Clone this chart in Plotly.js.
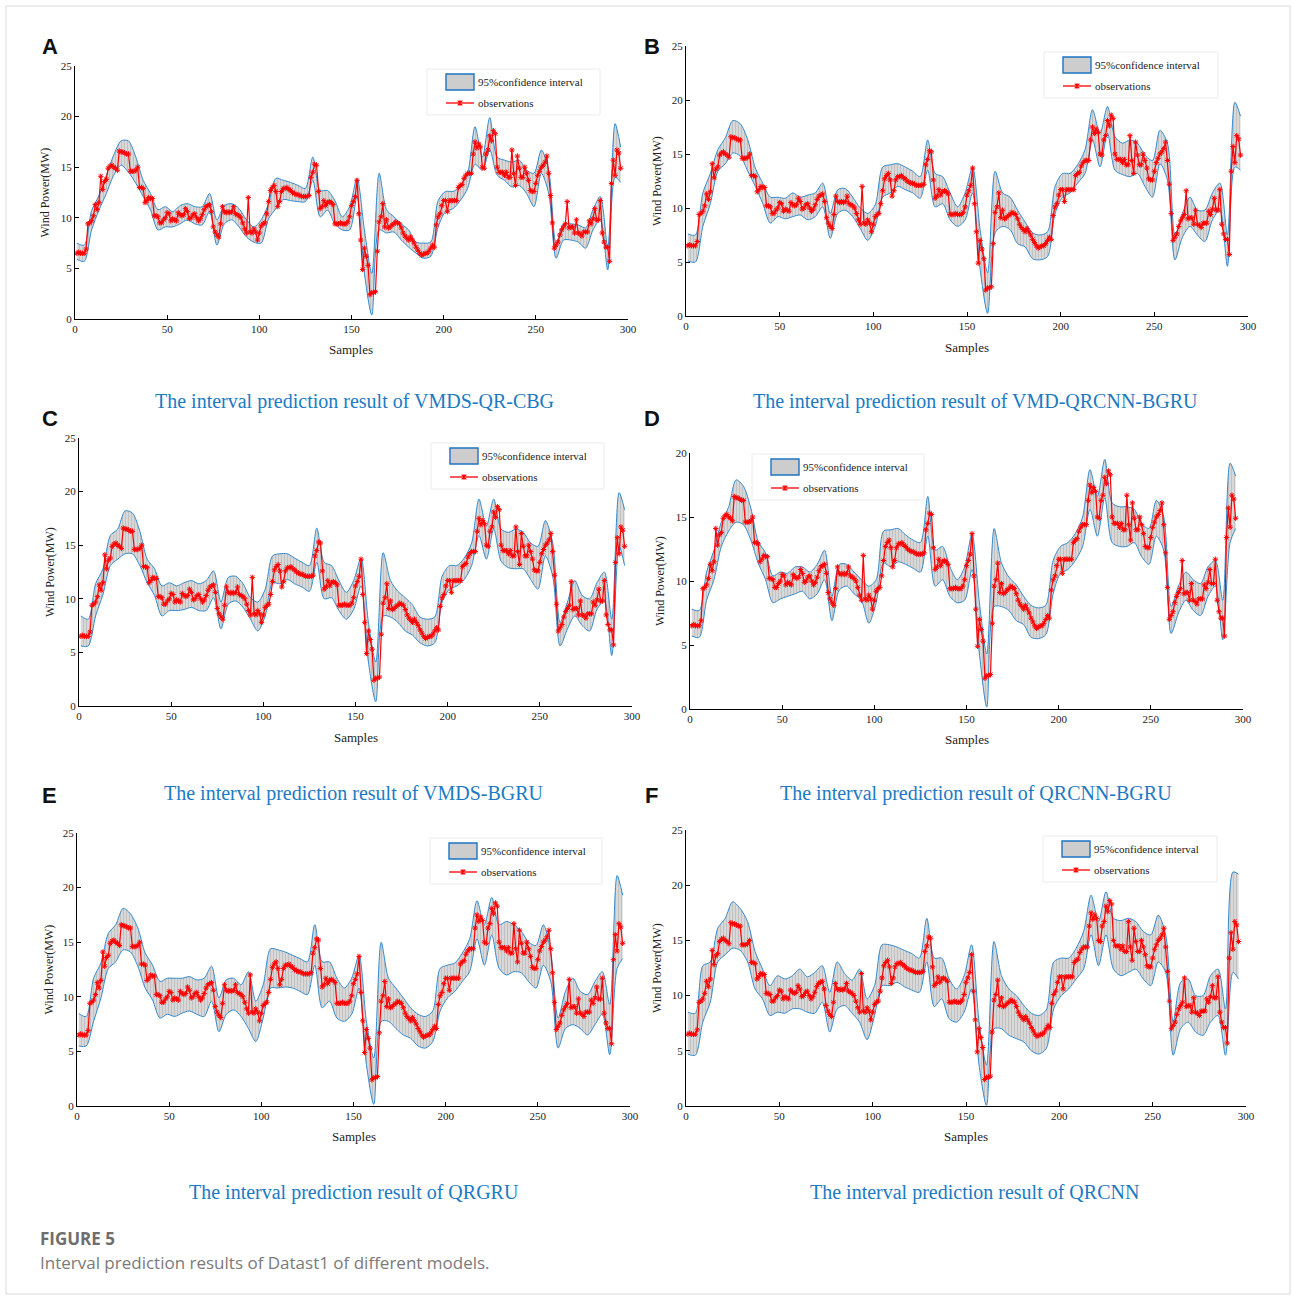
<!DOCTYPE html>
<html><head><meta charset="utf-8">
<script src="https://cdn.plot.ly/plotly-3.0.1.min.js"></script>
<style>html,body{margin:0;padding:0;background:#fff}#chart{width:1292px;height:1296px}</style>
</head><body><div id="chart"></div>
<script>
// ---------------- DATA ----------------
const modelNames = ["VMDS-QR-CBG","VMD-QRCNN-BGRU","VMDS-BGRU","QRCNN-BGRU","QRGRU","QRCNN"];
const panelLetters = ["A","B","C","D","E","F"];
const legendLabels = ["95%confidence interval","observations"];
const xTicks = [0,50,100,150,200,250,300];

// observations (sample 1..296)
const observations = [
6.5,6.6,6.5,6.5,6.5,6.9,9.4,9.5,9.7,10.2,
11.3,10.8,11.5,14.1,12.8,13.6,13.8,14.9,15.1,15.2,
15.0,14.9,14.7,16.6,16.5,16.5,16.4,16.3,16.3,14.6,
14.6,14.6,14.7,15.0,13.0,13.0,12.9,11.5,11.7,12.0,
11.9,11.9,10.2,10.2,10.1,9.5,9.5,9.8,10.0,10.5,
10.4,9.7,9.9,9.8,9.7,10.5,10.3,10.2,10.3,10.9,
10.6,9.9,10.0,10.3,10.4,10.0,9.7,9.9,10.3,10.8,
11.1,11.2,11.3,10.6,9.1,8.6,8.3,8.1,9.4,11.1,
10.6,10.5,10.6,10.5,10.6,11.1,10.4,10.3,10.2,10.0,
9.5,8.9,8.5,12.0,8.6,8.5,8.9,8.6,7.8,8.5,
9.2,9.4,9.5,10.4,11.6,12.7,13.0,13.2,12.6,11.1,
11.6,12.6,12.9,12.9,13.0,12.8,12.7,12.5,12.4,12.3,
12.3,12.2,12.1,12.1,12.1,12.1,12.2,14.0,14.5,15.3,
15.2,12.6,10.9,11.1,11.7,11.2,11.5,11.6,11.5,11.3,
9.4,9.4,9.4,9.5,9.4,9.4,9.4,9.6,10.1,11.2,
11.6,12.1,13.7,10.4,7.8,4.9,7.0,6.2,5.3,2.4,
2.6,2.6,2.7,6.7,9.6,10.1,11.4,9.1,9.8,9.0,
9.1,9.3,9.4,9.6,9.5,9.4,9.0,8.5,8.2,8.0,
7.8,8.1,7.8,7.5,7.1,6.8,6.5,6.3,6.4,6.5,
6.5,6.7,7.0,7.3,7.1,9.3,10.1,10.4,11.2,11.7,
11.7,10.6,11.7,11.7,11.7,11.7,11.7,13.0,13.2,13.3,
13.9,14.2,14.4,14.4,14.4,16.3,17.5,16.9,17.3,17.0,
15.0,14.9,16.3,16.7,18.1,17.6,18.6,18.3,15.0,14.5,
14.5,14.5,14.2,14.5,14.0,14.0,16.7,14.4,13.2,16.1,
14.9,14.0,14.0,15.0,14.4,13.7,12.7,12.6,12.6,13.4,
14.2,14.6,15.0,15.2,15.5,16.1,14.4,12.2,9.5,7.0,
7.3,7.6,8.3,8.8,9.1,9.4,11.6,9.0,9.1,9.1,
8.5,9.8,8.5,8.4,8.2,8.6,8.6,8.6,9.7,9.4,
9.9,10.9,9.8,9.8,11.7,8.5,7.6,7.1,7.1,5.7,
13.4,15.7,14.2,16.7,16.4,14.9];

// samples at which the interval bounds were read
const bandX = [1,5,9,13,17,21,25,29,33,37,41,45,49,53,57,61,65,69,73,77,
81,85,89,93,97,101,105,109,113,117,121,125,129,133,137,141,145,149,153,157,
161,165,169,173,177,181,185,189,193,197,201,205,209,213,217,221,225,229,233,237,
241,245,249,253,257,261,265,269,273,277,281,285,289,293,296];

const upperA = [7.5,7.3,10.7,12.2,14.2,16.2,17.6,17.6,16.0,13.7,
12.4,10.8,11.1,10.6,11.2,11.4,11.1,11.1,12.4,9.8,
11.2,11.4,10.9,9.8,9.1,9.8,11.4,13.9,13.7,13.5,
13.2,12.9,16.0,12.7,12.7,11.7,10.1,11.1,13.9,8.8,
4.5,14.4,10.8,10.1,9.4,8.8,7.6,7.5,7.6,11.7,
12.6,12.6,13.1,14.4,19.0,16.0,19.9,16.0,15.7,15.5,
15.7,14.7,14.4,16.7,14.7,7.5,9.4,9.4,9.3,9.0,
10.8,12.1,7.1,19.3,17.0];
const lowerA = [5.9,5.7,8.8,10.75,12.4,14.2,15.2,14.5,13.4,12.1,
10.75,8.8,9.1,9.1,9.4,9.8,9.4,9.3,10.6,7.3,
9.4,9.8,9.1,8.1,7.6,7.5,9.9,10.9,11.8,11.7,
11.6,11.6,13.7,10.1,10.75,9.4,8.8,8.8,12.1,4.5,
0.4,8.8,8.5,8.6,7.8,7.1,6.5,6.0,6.2,9.1,
10.6,10.9,11.7,12.9,15.3,14.7,16.7,14.2,13.7,13.05,
13.2,12.4,11.1,14.4,12.4,6.0,7.8,7.8,7.6,7.0,
8.8,9.8,4.85,14.0,13.5];

const upperB = [7.6,7.5,11.4,13.2,15.4,16.5,18.1,17.8,16.3,13.7,
12.3,11.0,11.0,10.9,11.4,11.0,11.2,11.4,12.3,9.5,
11.7,11.8,11.0,10.0,9.5,10.3,13.8,14.0,14.1,13.8,
13.4,12.9,16.3,13.2,12.9,11.4,10.1,11.4,13.8,8.0,
4.0,13.4,11.4,11.0,9.8,8.7,7.7,7.5,7.8,12.0,
13.2,13.2,14.0,15.4,19.1,16.9,19.4,16.6,16.0,16.3,
16.0,14.9,14.4,17.2,16.0,7.5,9.5,11.0,9.8,9.8,
11.4,12.3,7.5,19.8,18.5];
const lowerB = [5.1,5.0,8.3,10.4,13.4,14.1,15.1,14.8,13.4,12.0,
10.4,8.6,9.2,9.0,9.2,9.35,8.9,9.2,10.1,7.2,
9.5,9.8,9.2,8.1,7.0,8.3,11.0,11.4,12.0,11.7,
11.4,10.9,13.5,10.1,10.4,8.9,8.3,8.9,11.4,4.3,
0.25,7.7,8.3,8.0,6.7,6.4,5.3,5.2,5.5,9.5,
11.0,11.4,12.3,13.2,16.3,13.8,16.9,13.5,13.1,12.9,
13.2,12.0,11.0,14.1,12.6,5.2,7.3,8.3,7.5,6.9,
8.9,9.8,4.6,13.8,13.5];

const upperC = [8.4,8.1,11.4,12.8,15.9,16.5,18.2,18.0,16.3,13.7,
12.8,11.2,11.5,11.2,11.5,11.7,11.4,11.7,12.6,9.7,
12.0,12.1,11.4,10.1,9.7,10.9,14.0,14.2,14.2,13.8,
13.4,13.1,16.6,13.4,13.1,11.7,10.6,11.7,13.8,7.8,
4.1,14.3,11.7,10.7,10.1,9.4,8.3,8.1,8.3,12.1,
13.1,13.1,13.8,15.2,19.3,16.8,19.3,16.5,16.2,16.5,
16.2,15.2,14.9,17.3,15.2,7.8,9.7,11.7,10.3,10.0,
11.5,12.5,8.1,19.9,18.3];
const lowerC = [5.6,5.6,8.4,10.4,13.1,13.7,14.2,14.2,13.1,11.5,
10.3,8.4,8.9,8.9,9.0,9.2,8.9,8.9,10.1,7.2,
9.5,9.8,9.2,8.1,7.0,8.4,11.5,11.4,11.8,11.4,
11.1,10.7,13.4,10.0,10.1,8.9,8.1,9.0,11.2,4.1,
0.4,8.4,8.3,7.8,7.0,6.6,5.9,5.6,5.9,9.7,
10.9,11.2,11.8,13.1,15.9,13.7,16.5,13.5,12.9,12.8,
12.8,11.8,10.9,14.0,12.1,5.6,7.2,8.4,7.5,7.0,
9.0,9.8,4.7,14.9,13.1];

const upperD = [7.8,7.7,10.7,12.4,14.6,15.8,17.9,17.4,15.7,13.1,
12.2,10.4,10.7,10.6,11.1,11.1,10.7,11.3,12.4,8.8,
11.3,11.3,10.7,10.1,9.6,10.1,13.9,14.0,14.1,13.6,
13.2,13.0,16.6,12.4,12.7,11.1,10.1,11.1,13.7,8.3,
4.3,14.1,11.4,10.3,9.7,8.8,8.1,7.9,8.1,11.6,
12.7,13.0,13.7,15.0,18.7,16.6,19.5,16.1,15.8,15.8,
15.6,14.5,14.1,16.3,15.0,8.0,9.6,10.7,10.1,9.8,
11.1,11.6,8.5,19.2,18.2];
const lowerD = [5.7,5.6,8.5,10.1,12.7,13.9,14.6,14.4,13.2,11.4,
10.1,8.3,8.6,8.8,9.0,9.2,8.6,9.0,10.1,6.9,
9.3,9.6,9.0,8.5,6.7,8.3,11.4,11.1,11.5,11.3,
11.0,10.7,13.5,9.6,10.1,8.8,8.3,8.5,10.9,4.3,
0.15,8.0,8.0,7.7,6.9,6.6,5.6,5.5,5.8,9.0,
10.6,10.9,11.6,12.7,15.6,13.5,16.5,13.0,12.7,12.7,
13.0,11.9,11.3,13.5,12.4,5.9,7.5,8.5,7.7,7.3,
8.8,9.6,5.4,13.0,14.1];

const upperE = [8.45,8.2,11.7,13.1,15.8,16.6,18.1,17.6,16.3,14.0,
12.9,11.4,11.7,11.7,11.7,11.85,11.55,11.7,12.8,9.9,
11.55,11.7,11.1,12.3,9.6,11.1,14.4,14.3,14.1,13.8,
13.5,13.2,16.6,13.2,13.2,11.7,10.8,11.7,13.8,7.75,
4.4,15.0,11.7,10.8,9.9,9.0,8.4,8.2,8.7,12.6,
12.9,13.1,14.0,15.3,18.8,16.6,19.1,16.6,16.9,16.6,
16.0,15.0,14.7,16.6,14.1,8.05,10.5,11.7,10.5,10.2,
11.4,12.3,9.3,21.1,19.3];
const lowerE = [5.5,5.5,7.75,9.9,12.6,13.2,14.3,14.1,12.8,10.8,
9.7,8.05,8.4,8.2,8.5,8.7,8.4,8.2,9.6,6.8,
8.4,8.8,8.2,7.1,5.9,8.05,10.8,10.8,10.9,10.8,
10.5,10.2,12.9,9.0,9.6,8.05,7.75,8.4,10.8,3.8,
0.15,7.75,7.75,7.1,6.5,6.2,5.5,5.3,5.9,8.7,
9.9,10.5,11.4,12.3,15.3,12.9,15.65,12.6,12.0,12.3,
12.2,11.4,10.8,12.9,11.4,5.3,7.1,7.45,7.1,6.5,
7.45,8.4,4.7,12.6,13.5];

const upperF = [8.5,8.4,12.7,13.05,16.1,17.0,18.5,17.9,16.7,14.0,
12.4,10.9,11.8,11.5,11.8,12.4,11.7,12.1,12.7,10.3,
13.05,12.0,11.4,12.4,9.7,10.9,14.6,14.6,14.4,14.1,
13.8,13.4,17.0,13.4,13.4,11.5,10.6,11.8,14.6,7.6,
3.7,14.9,11.8,10.6,10.0,9.1,8.4,8.2,8.7,13.05,
13.4,13.4,14.3,15.8,19.1,16.7,19.4,17.0,16.8,17.0,
16.7,15.8,15.5,17.3,15.5,7.6,11.2,11.5,10.0,10.0,
11.8,12.4,8.8,21.2,21.0];
const lowerF = [4.7,4.6,7.6,9.4,13.05,13.7,14.3,14.1,13.05,10.6,
9.7,8.2,8.5,8.4,8.8,8.8,8.5,8.4,9.4,6.7,
8.8,9.1,8.4,7.6,6.0,8.2,10.9,10.9,11.2,10.8,
10.5,10.3,13.05,9.0,9.7,7.9,7.6,8.5,10.6,3.7,
0.05,7.0,7.0,6.4,6.1,5.8,5.0,4.7,5.2,8.8,
10.0,10.6,11.5,12.4,15.5,12.7,15.5,12.4,11.8,12.1,
12.4,11.5,10.9,13.05,12.1,4.6,7.0,7.6,6.7,6.4,
7.6,8.2,4.6,12.1,11.5];

const upperBounds = [upperA,upperB,upperC,upperD,upperE,upperF];
const lowerBounds = [lowerA,lowerB,lowerC,lowerD,lowerE,lowerF];
const yMax = [25,25,25,20,25,25];

// ---------------- LAYOUT GEOMETRY (pixels) ----------------
const W = 1292, H = 1296;
const px = v => v / W, py = v => 1 - v / H;
const frames = [
  {x0:75,  x1:628,  y0:66,  y1:319, leg:[427,69,173],  ytx:45,  sy:349,  sub:[354,401],  lab:[50,47]},
  {x0:686, x1:1248, y0:46,  y1:316, leg:[1044,52,174], ytx:657, sy:347,  sub:[976,401],  lab:[652,47]},
  {x0:79,  x1:632,  y0:438, y1:706, leg:[431,443,173], ytx:50,  sy:737,  sub:[354,793],  lab:[50,418]},
  {x0:690, x1:1243, y0:453, y1:709, leg:[752,454,172], ytx:660, sy:739,  sub:[976,793],  lab:[652,418]},
  {x0:77,  x1:630,  y0:833, y1:1106,leg:[430,838,172], ytx:48,  sy:1136, sub:[354,1192], lab:[49,796]},
  {x0:686, x1:1246, y0:830, y1:1106,leg:[1043,836,174],ytx:657, sy:1136, sub:[974,1192], lab:[651,796]}
];

const samples = observations.map((_, i) => i + 1);
const serif = 'Liberation Serif, Times New Roman, serif';
const bandLine = 'rgb(52,138,206)';
const bandFill = 'rgb(212,212,212)';
const red = 'rgb(255,0,0)';

const traces = [];
const layout = {
  width: W, height: H,
  margin: {l:0, r:0, t:0, b:0},
  paper_bgcolor: '#ffffff', plot_bgcolor: 'rgba(0,0,0,0)',
  showlegend: false,
  annotations: [], shapes: []
};

frames.forEach((f, i) => {
  const n = i === 0 ? '' : String(i + 1);
  const xa = 'x' + n, ya = 'y' + n;
  traces.push({
    x: bandX, y: lowerBounds[i], xaxis: xa, yaxis: ya, type: 'scatter', mode: 'lines',
    line: {color: bandLine, width: 1, shape: 'spline', smoothing: 0.8},
    hoverinfo: 'skip', showlegend: false
  });
  traces.push({
    x: bandX, y: upperBounds[i], xaxis: xa, yaxis: ya, type: 'scatter', mode: 'lines',
    fill: 'tonexty', fillcolor: bandFill,
    fillpattern: {shape: '|', bgcolor: 'rgb(216,216,216)', fgcolor: 'rgb(186,186,186)', size: 3, solidity: 0.25},
    line: {color: bandLine, width: 1, shape: 'spline', smoothing: 0.8},
    name: legendLabels[0], showlegend: false
  });
  traces.push({
    x: samples, y: observations, xaxis: xa, yaxis: ya, type: 'scatter', mode: 'lines+markers',
    line: {color: red, width: 1.2},
    marker: {symbol: 'asterisk-open', size: 4.5, color: red, line: {color: red, width: 1}},
    name: legendLabels[1], showlegend: false
  });
  const axCommon = {
    showline: true, linecolor: '#000', linewidth: 1, mirror: false,
    ticks: 'inside', ticklen: 4, tickcolor: '#000', tickwidth: 1,
    showgrid: false, zeroline: false, fixedrange: true,
    tickfont: {family: serif, size: 11, color: '#222'}
  };
  layout['xaxis' + n] = Object.assign({}, axCommon, {
    domain: [px(f.x0), px(f.x1)], range: [0, 300], tickvals: xTicks, anchor: ya
  });
  layout['yaxis' + n] = Object.assign({}, axCommon, {
    domain: [py(f.y1), py(f.y0)], range: [0, yMax[i]], dtick: 5, tick0: 0, anchor: xa
  });

  // legend box (drawn as shapes + text)
  const [lx, ly, lw] = f.leg;
  layout.shapes.push(
    {type: 'rect', xref: 'paper', yref: 'paper', layer: 'above',
     x0: px(lx), x1: px(lx + lw), y0: py(ly + 46), y1: py(ly),
     fillcolor: '#ffffff', line: {color: '#ececec', width: 1}},
    {type: 'rect', xref: 'paper', yref: 'paper', layer: 'above',
     x0: px(lx + 19), x1: px(lx + 47), y0: py(ly + 21), y1: py(ly + 5),
     fillcolor: 'rgb(205,205,205)', line: {color: 'rgb(30,115,195)', width: 1.4}},
    {type: 'line', xref: 'paper', yref: 'paper', layer: 'above',
     x0: px(lx + 19), x1: px(lx + 47), y0: py(ly + 34), y1: py(ly + 34),
     line: {color: red, width: 1.3}}
  );
  const cx = lx + 33, cy = ly + 34, r = 2.3;
  const mk = `M${px(cx - r)},${py(cy - r)}L${px(cx + r)},${py(cy + r)}` +
             `M${px(cx - r)},${py(cy + r)}L${px(cx + r)},${py(cy - r)}` +
             `M${px(cx)},${py(cy - r - 0.5)}L${px(cx)},${py(cy + r + 0.5)}`;
  layout.shapes.push({type: 'path', xref: 'paper', yref: 'paper', layer: 'above', path: mk,
    line: {color: red, width: 1.2}});
  layout.annotations.push(
    {text: legendLabels[0], x: px(lx + 49), y: py(ly + 13), xref: 'paper', yref: 'paper',
     xanchor: 'left', yanchor: 'middle', showarrow: false, font: {family: serif, size: 11, color: '#222'}},
    {text: legendLabels[1], x: px(lx + 49), y: py(ly + 34), xref: 'paper', yref: 'paper',
     xanchor: 'left', yanchor: 'middle', showarrow: false, font: {family: serif, size: 11, color: '#222'}}
  );

  layout.annotations.push(
    {text: panelLetters[i], x: px(f.lab[0]), y: py(f.lab[1]), xref: 'paper', yref: 'paper',
     xanchor: 'center', yanchor: 'middle', showarrow: false,
     font: {family: 'Liberation Sans, Arial, sans-serif', size: 22, color: '#111', weight: 'bold'}},
    {text: 'Samples', x: px((f.x0 + f.x1) / 2), y: py(f.sy), xref: 'paper', yref: 'paper',
     xanchor: 'center', yanchor: 'middle', showarrow: false,
     font: {family: serif, size: 13, color: '#222'}},
    {text: 'Wind Power(MW)', x: px(f.ytx), y: py((f.y0 + f.y1) / 2), xref: 'paper', yref: 'paper',
     xanchor: 'center', yanchor: 'middle', showarrow: false, textangle: -90,
     font: {family: serif, size: 12, color: '#222'}},
    {text: 'The interval prediction result of ' + modelNames[i], x: px(f.sub[0]), y: py(f.sub[1]),
     xref: 'paper', yref: 'paper', xanchor: 'center', yanchor: 'middle', showarrow: false,
     font: {family: serif, size: 20, color: 'rgb(28,122,196)'}}
  );
});

layout.annotations.push(
  {text: 'FIGURE 5', x: px(38), y: py(1238), xref: 'paper', yref: 'paper', xanchor: 'left', yanchor: 'middle',
   showarrow: false, font: {family: 'Open Sans, sans-serif', size: 17, color: '#6e6e6e', weight: 'bold'}},
  {text: 'Interval prediction results of Datast1 of different models.', x: px(38), y: py(1262),
   xref: 'paper', yref: 'paper', xanchor: 'left', yanchor: 'middle', showarrow: false,
   font: {family: 'Open Sans, sans-serif', size: 17, color: '#7a7a7a'}}
);
layout.shapes.push({type: 'rect', xref: 'paper', yref: 'paper', x0: px(6), x1: px(1290), y0: py(1294), y1: py(6),
  line: {color: '#d9d9d9', width: 1}, fillcolor: 'rgba(0,0,0,0)', layer: 'below'});

Plotly.newPlot('chart', traces, layout, {displayModeBar: false, staticPlot: true});
</script>
</body></html>
